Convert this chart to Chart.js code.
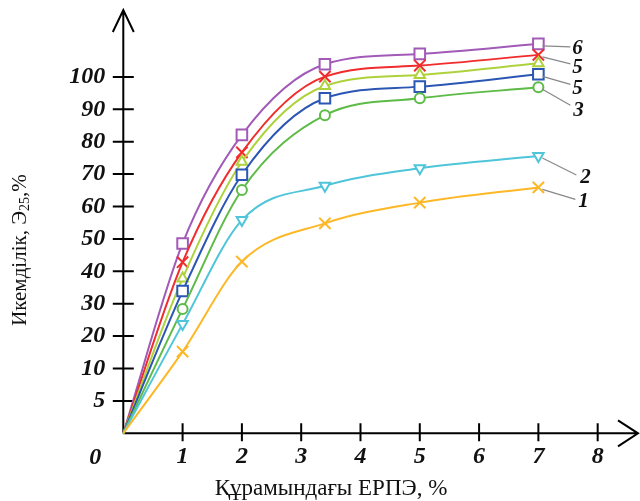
<!DOCTYPE html>
<html>
<head>
<meta charset="utf-8">
<script src="https://cdn.jsdelivr.net/npm/chart.js@4.4.0/dist/chart.umd.min.js"></script>
<style>
  html, body { margin: 0; padding: 0; background: #fff; }
</style>
</head>
<body>
<canvas id="myChart" width="640" height="501"></canvas>
<script>
// Құрамындағы ЕРПЭ, %
var xValues = [0, 1, 2, 3.4, 5, 7];
// Икемділік, Э25 % (curves 1..6)
var curve1 = [0, 15.2, 43, 54.8, 61.2, 65.9];
var curve2 = [0, 23.7, 55.8, 66.4, 71.8, 75.6];
var curve3 = [0, 28.4, 65.1, 88.2, 93.4, 96.8];
var curve5a = [0, 33.9, 69.8, 93.4, 97, 100.8];
var curve5b = [0, 37.8, 73.8, 97.2, 100.6, 104.2];
var curve5c = [0, 42.8, 76.7, 100.1, 103.5, 106.8];
var curve6 = [0, 48.6, 82.1, 103.9, 107.1, 110.2];
var curveNames = ["1", "2", "3", "5", "", "5", "6"];
var xTicks = [1, 2, 3, 4, 5, 6, 7, 8];
var yTicks = [5, 10, 20, 30, 40, 50, 60, 70, 80, 90, 100];

// y axis is stretched below 10: 0,5,10 take the same room as 10,20,...
function toAxis(v) {
  return v <= 10 ? v / 5 : 1 + v / 10;
}

function pts(vals) {
  return xValues.map(function (x, i) {
    return { x: x, y: toAxis(vals[i]) };
  });
}

function radii(r) {
  return xValues.map(function (x, i) { return i === 0 ? 0 : r; });
}

var serifBI = { family: "Liberation Serif", size: 24, style: "italic", weight: "bold" };

function mkSet(vals, color, style, r, rot) {
  return {
    data: pts(vals),
    borderColor: color,
    backgroundColor: "#fff",
    borderWidth: 2,
    pointStyle: style,
    pointRadius: radii(r),
    pointRotation: rot || 0,
    pointBorderWidth: 2,
    pointBorderColor: color,
    pointBackgroundColor: "#fff",
    cubicInterpolationMode: "monotone",
    clip: false,
  };
}

// label offsets from the last marker: [labelDx, labelDy, leaderDx, leaderDy]
var labelOffsets = [
  [45, 14, 37, 12],
  [47, 22, 38, 19],
  [40, 23, 32, 18],
  [39, 14, 32, 10],
  null,
  [39, 13, 32, 9],
  [39, 5, 32, 3],
];

function noPad(scale) {
  scale.paddingTop = 0;
  scale.paddingBottom = 0;
  scale.paddingLeft = 0;
  scale.paddingRight = 0;
}

var axesPlugin = {
  id: "axesDraw",
  beforeDatasetsDraw: function (chart) {
    var ctx = chart.ctx;
    var xs = chart.scales.x, ys = chart.scales.y;
    var ox = xs.getPixelForValue(0), oy = ys.getPixelForValue(0);
    var top = chart.chartArea.top, right = chart.chartArea.right;
    ctx.save();
    ctx.strokeStyle = "#000";
    ctx.lineWidth = 2;
    ctx.beginPath();
    ctx.moveTo(ox, oy); ctx.lineTo(ox, top);
    ctx.moveTo(ox - 10.5, top + 22); ctx.lineTo(ox, top); ctx.lineTo(ox + 10.5, top + 22);
    ctx.moveTo(ox, oy); ctx.lineTo(right, oy);
    ctx.moveTo(right - 20, oy - 13); ctx.lineTo(right, oy); ctx.lineTo(right - 20, oy + 13);
    yTicks.forEach(function (v) {
      var y = ys.getPixelForValue(toAxis(v));
      ctx.moveTo(ox - 10.5, y); ctx.lineTo(ox + 10.5, y);
    });
    xTicks.forEach(function (v) {
      var x = xs.getPixelForValue(v);
      ctx.moveTo(x, oy - 10); ctx.lineTo(x, oy + 8);
    });
    ctx.stroke();

    ctx.fillStyle = "#111";
    ctx.font = "italic bold 24px 'Liberation Serif'";
    ctx.textAlign = "center";
    ctx.textBaseline = "middle";
    ctx.fillText("0", ox - 28, oy + 24);

    ctx.font = "23px 'Liberation Serif'";
    ctx.fillText("Құрамындағы ЕРПЭ, %", 331, 489);

    // rotated y title with subscript
    var main = "Икемділік, Э", sub = "25", tail = ",%";
    ctx.translate(20, 250);
    ctx.rotate(-Math.PI / 2);
    ctx.textAlign = "left";
    ctx.font = "21px 'Liberation Serif'";
    var w1 = ctx.measureText(main).width, w3 = ctx.measureText(tail).width;
    ctx.font = "14px 'Liberation Serif'";
    var w2 = ctx.measureText(sub).width;
    var x0 = -(w1 + w2 + w3) / 2;
    ctx.font = "21px 'Liberation Serif'";
    ctx.fillText(main, x0, 0);
    ctx.font = "14px 'Liberation Serif'";
    ctx.fillText(sub, x0 + w1, 5);
    ctx.font = "21px 'Liberation Serif'";
    ctx.fillText(tail, x0 + w1 + w2, 0);
    ctx.restore();
  },
  afterDatasetsDraw: function (chart) {
    var ctx = chart.ctx;
    ctx.save();
    ctx.strokeStyle = "#888";
    ctx.lineWidth = 1.2;
    ctx.fillStyle = "#111";
    ctx.font = "italic bold 21px 'Liberation Serif'";
    ctx.textAlign = "center";
    ctx.textBaseline = "middle";
    chart.data.datasets.forEach(function (ds, i) {
      var off = labelOffsets[i];
      if (!off) return;
      var meta = chart.getDatasetMeta(i);
      var p = meta.data[meta.data.length - 1];
      ctx.beginPath();
      ctx.moveTo(p.x + 4, p.y + 2);
      ctx.lineTo(p.x + off[2], p.y + off[3]);
      ctx.stroke();
      ctx.fillText(curveNames[i], p.x + off[0], p.y + off[1]);
    });
    ctx.restore();
  },
};

var ctx = document.getElementById("myChart").getContext("2d");
var myChart = new Chart(ctx, {
  type: "line",
  data: {
    datasets: [
      mkSet(curve1, "#fdb827", "crossRot", 8),
      mkSet(curve2, "#4ec5d9", "triangle", 6, 180),
      mkSet(curve3, "#5dbb47", "circle", 5),
      mkSet(curve5a, "#2b56b4", "rect", 7.5),
      mkSet(curve5b, "#aed23c", "triangle", 6),
      mkSet(curve5c, "#f02c2c", "crossRot", 8),
      mkSet(curve6, "#a25ab8", "rect", 7.5),
    ],
  },
  options: {
    responsive: false,
    animation: false,
    layout: { autoPadding: false, padding: { top: 10, right: 2, left: 0, bottom: 0 } },
    plugins: { legend: { display: false }, tooltip: { enabled: false } },
    scales: {
      x: {
        type: "linear",
        min: 0,
        max: 8.68,
        grid: { display: false, drawTicks: false },
        border: { display: false },
        afterBuildTicks: function (scale) {
          scale.ticks = xTicks.map(function (v) { return { value: v }; });
        },
        afterFit: function (scale) { scale.height = 67.7; noPad(scale); },
        ticks: { font: serifBI, color: "#111", padding: 9, maxRotation: 0 },
      },
      y: {
        type: "linear",
        min: 0,
        max: 13.065,
        grid: { display: false, drawTicks: false },
        border: { display: false },
        afterBuildTicks: function (scale) {
          scale.ticks = yTicks.map(function (v) { return { value: toAxis(v) }; });
        },
        afterFit: function (scale) { scale.width = 123.3; noPad(scale); },
        ticks: {
          font: serifBI,
          color: "#111",
          padding: 18,
          callback: function (val, idx) { return String(yTicks[idx]); },
        },
      },
    },
  },
  plugins: [axesPlugin],
});
</script>
</body>
</html>
